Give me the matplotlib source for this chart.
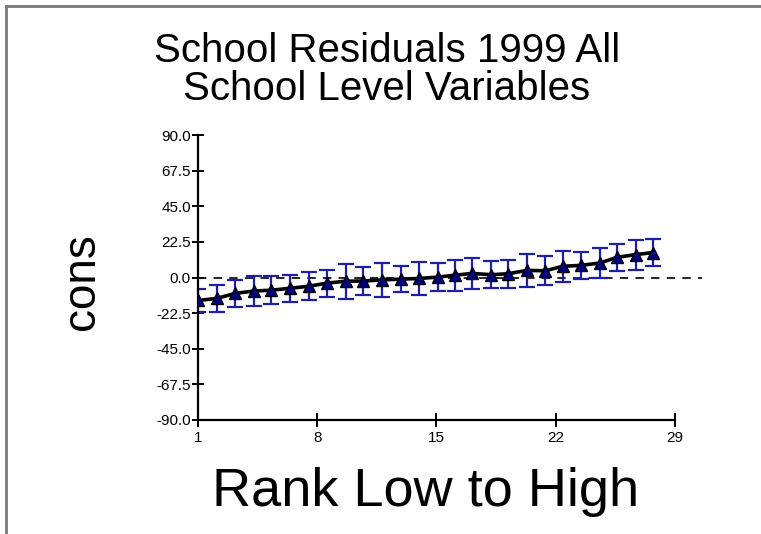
import matplotlib
matplotlib.use("Agg")
import matplotlib.pyplot as plt
from matplotlib.lines import Line2D
from matplotlib.ticker import FormatStrFormatter

plt.rcParams['font.family'] = ['Liberation Sans', 'DejaVu Sans']
plt.rcParams['axes.unicode_minus'] = False

# school residuals, ranked low to high, with their error half-widths
rank_pos = [1.0, 2.1, 3.2, 4.3, 5.3, 6.4, 7.5, 8.6, 9.7, 10.7, 11.8, 12.9, 14.0,
            15.1, 16.1, 17.1, 18.2, 19.2, 20.3, 21.4, 22.4, 23.5, 24.6, 25.6, 26.7, 27.7]
residual = [-14.5, -13.2, -10.0, -8.5, -8.0, -6.8, -5.5, -3.5, -2.3, -2.2, -1.5, -1.0, -0.6,
            0.3, 1.5, 2.6, 1.8, 2.4, 4.5, 4.3, 7.1, 7.7, 9.2, 12.8, 14.5, 15.8]
err = [7.5, 8.5, 8.6, 9.3, 8.7, 8.5, 9.0, 8.5, 11.0, 9.0, 10.8, 8.2, 10.7,
       8.7, 9.7, 9.6, 8.7, 9.0, 10.2, 9.1, 9.8, 8.4, 9.2, 8.6, 9.5, 8.4]

x_ticks = [1, 8, 15, 22, 29]
y_ticks = [-90.0, -67.5, -45.0, -22.5, 0.0, 22.5, 45.0, 67.5, 90.0]

fig = plt.figure(figsize=(7.61, 5.34), dpi=100)
ax = fig.add_axes([0.260, 0.2135, 0.627, 0.5335])

# zero reference line runs a little past the axis end
ax.plot([1, 30.6], [0, 0], color='#2a2a2a', lw=1.5, ls=(0, (4, 3.5)),
        clip_on=False, zorder=1)

ax.errorbar(rank_pos, residual, yerr=err, fmt='none', ecolor='#1e1ea6',
            elinewidth=1.6, capsize=6, capthick=1.6, zorder=2)
ax.plot(rank_pos, residual, color='black', lw=2.6, zorder=3)
ax.plot(rank_pos, residual, ls='none', marker='^', markersize=9,
        markerfacecolor='#000080', markeredgecolor='black', markeredgewidth=1.0,
        zorder=4)

ax.set_xlim(1, 29)
ax.set_ylim(-90, 90)
ax.set_xticks(x_ticks)
ax.set_yticks(y_ticks)
ax.yaxis.set_major_formatter(FormatStrFormatter('%.1f'))

for side in ['top', 'right']:
    ax.spines[side].set_visible(False)
for side in ['left', 'bottom']:
    ax.spines[side].set_linewidth(1.6)
ax.tick_params(axis='both', direction='inout', length=8, width=1.4,
               labelsize=11, pad=1)
ax.tick_params(axis='x', length=10, pad=3)

fig.text(387 / 761, 1 - 70 / 534, 'School Residuals 1999 All\nSchool Level Variables',
         ha='center', va='center', fontsize=29, linespacing=0.98)
fig.text(426 / 761, 1 - 492 / 534, 'Rank Low to High', ha='center', va='center',
         fontsize=39)
fig.text(82 / 761, 1 - 282 / 534, 'cons', ha='center', va='center',
         rotation=90, fontsize=33)

# window frame on the top and left edges
fig.add_artist(Line2D([6 / 761, 6 / 761], [0, 1 - 6 / 534], transform=fig.transFigure,
                      color='#7a7a7a', lw=2))
fig.add_artist(Line2D([6 / 761, 1], [1 - 6 / 534, 1 - 6 / 534], transform=fig.transFigure,
                      color='#7a7a7a', lw=2))

fig.savefig('out.png', dpi=100)
